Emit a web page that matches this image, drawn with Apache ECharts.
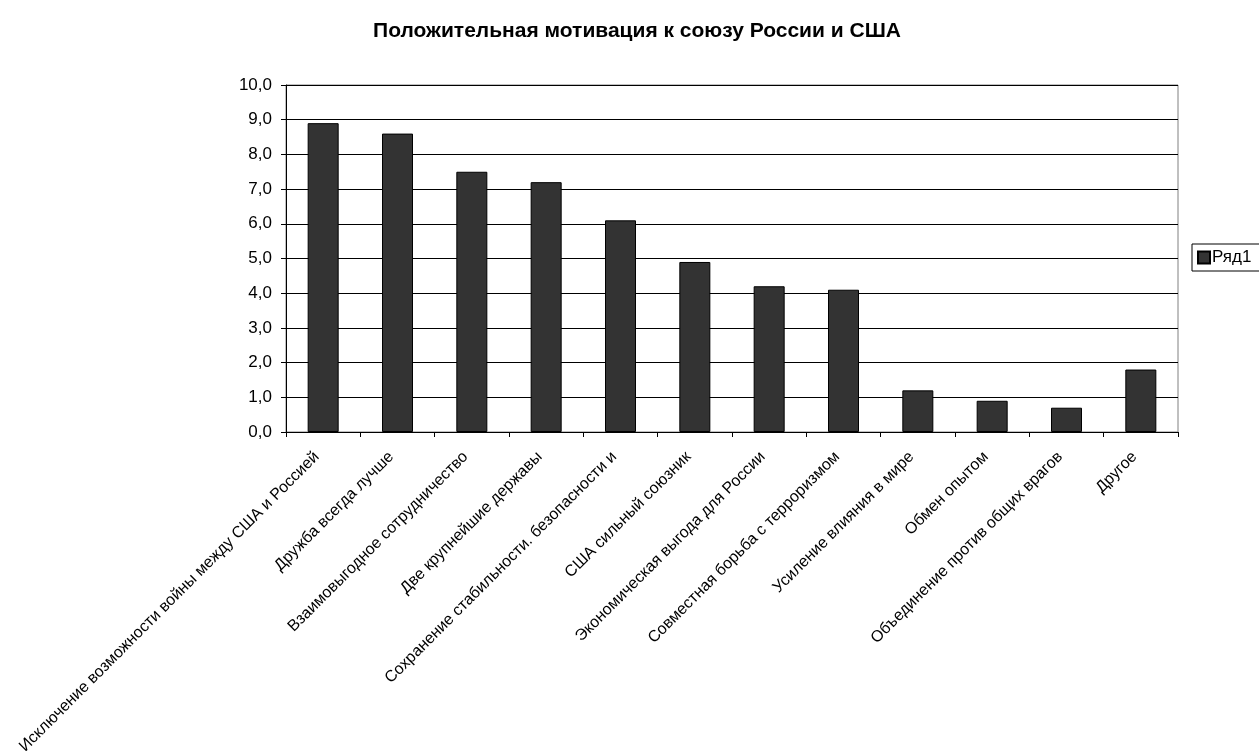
<!DOCTYPE html>
<html><head><meta charset="utf-8">
<script src="https://cdn.jsdelivr.net/npm/echarts@6/dist/echarts.min.js"></script>
<style>html,body{margin:0;padding:0;background:#fff}#c{width:1259px;height:751px}</style>
</head><body><div id="c"></div>
<script>
const categories = [
  "Исключение возможности войны между США и Россией",
  "Дружба всегда лучше",
  "Взаимовыгодное сотрудничество",
  "Две крупнейшие державы",
  "Сохранение стабильности. безопасности и",
  "США сильный союзник",
  "Экономическая выгода для России",
  "Совместная борьба с терроризмом",
  "Усиление влияния в мире",
  "Обмен опытом",
  "Объединение против общих врагов",
  "Другое"
];
const seriesName = "Ряд1";
const values = [8.9, 8.6, 7.5, 7.2, 6.1, 4.9, 4.2, 4.1, 1.2, 0.9, 0.7, 1.8];
const titleText = "Положительная мотивация к союзу России и США";

const chart = echarts.init(document.getElementById('c'));
chart.setOption({
  animation: false,
  textStyle: {fontFamily: 'Liberation Sans, Arial, sans-serif'},
  title: {
    text: titleText, left: 632, top: 16, textAlign: 'center',
    textStyle: {fontSize: 21, fontWeight: 'bold', color: '#000', fontFamily: 'Liberation Sans, Arial, sans-serif'}
  },
  legend: {
    data: [seriesName], left: 1192, top: 244, orient: 'vertical',
    borderColor: '#000', borderWidth: 1, padding: [5, 12, 5, 5],
    itemWidth: 12, itemHeight: 12, itemGap: 0,
    icon: 'rect',
    textStyle: {fontSize: 17, color: '#000', padding: [0, 0, 0, -3]}
  },
  grid: {left: 286, right: 81, top: 85, bottom: 319, show: true, borderColor: '#808080', borderWidth: 1, outerBoundsMode: 'none', containLabel: false},
  xAxis: {
    type: 'category', data: categories,
    axisLine: {lineStyle: {color: '#000'}},
    axisTick: {show: true, alignWithLabel: false, length: 5, lineStyle: {color: '#000'}},
    axisLabel: {rotate: 45, interval: 0, fontSize: 16, color: '#000', margin: 16, padding: [0, 9, 8, 0]}
  },
  yAxis: {
    type: 'value', min: 0, max: 10, interval: 1,
    axisLine: {show: true, lineStyle: {color: '#000'}},
    axisTick: {show: true, length: 5, lineStyle: {color: '#000'}},
    axisLabel: {fontSize: 17, color: '#000', margin: 14, formatter: v => v.toFixed(1).replace('.', ',')},
    splitLine: {lineStyle: {color: '#000', width: 1}}
  },
  series: [{
    name: seriesName, type: 'bar', data: values, barWidth: 31,
    itemStyle: {color: '#333333', borderColor: '#000', borderWidth: 1}
  }]
});
</script></body></html>
